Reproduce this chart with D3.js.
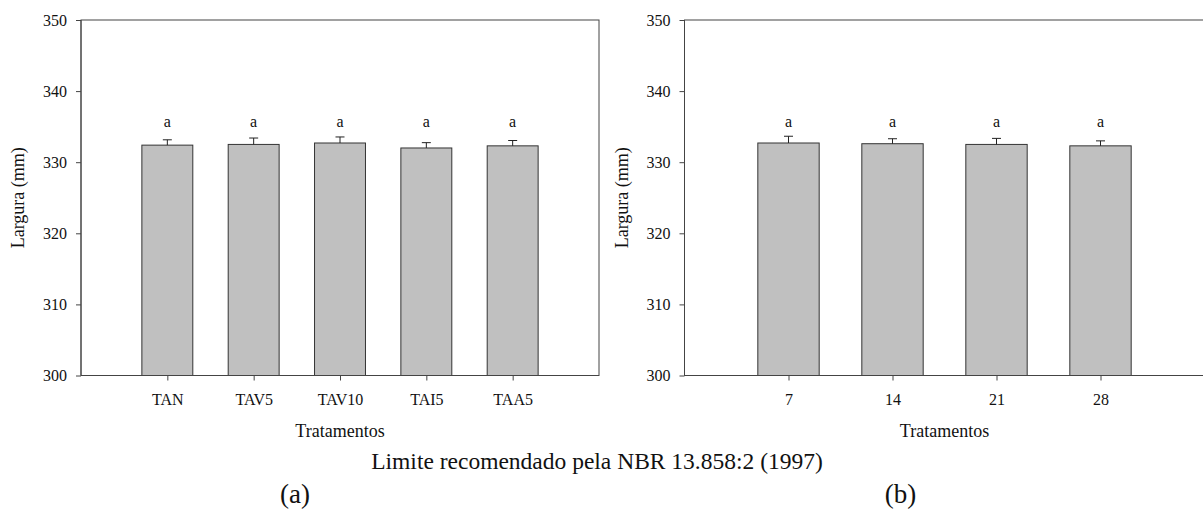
<!DOCTYPE html>
<html>
<head>
<meta charset="utf-8">
<script src="https://cdn.jsdelivr.net/npm/d3@7"></script>
<style>
  html, body { margin: 0; padding: 0; background: #fff; }
  svg { display: block; font-family: "Liberation Serif", "Times New Roman", serif; }
</style>
</head>
<body>
<svg id="chart" width="1203" height="511"></svg>
<script>
// Panel (a): treatments
const leftCategories = ["TAN", "TAV5", "TAV10", "TAI5", "TAA5"];
const leftMeans = [332.4, 332.5, 332.7, 332.0, 332.3];
const leftErrors = [0.75, 0.9, 0.85, 0.75, 0.75];
const leftLetters = ["a", "a", "a", "a", "a"];

// Panel (b): days
const rightCategories = ["7", "14", "21", "28"];
const rightMeans = [332.7, 332.6, 332.5, 332.3];
const rightErrors = [0.95, 0.7, 0.85, 0.7];
const rightLetters = ["a", "a", "a", "a"];

const yTicks = [300, 310, 320, 330, 340, 350];
const yDomain = [300, 350];

const svg = d3.select("#chart");
const axisColor = "#444";
const textColor = "#111";

function drawPanel(cfg) {
  const g = svg.append("g");
  const x = d3.scalePoint().domain(cfg.categories).range([cfg.x0, cfg.x1]).padding(1);
  const y = d3.scaleLinear().domain(yDomain).range([cfg.bottom, cfg.top]);
  const barW = x.step() * 0.59;
  const data = cfg.categories.map((c, i) => ({ c, m: cfg.means[i], e: cfg.errors[i], l: cfg.letters[i] }));

  // frame (top and right sides)
  g.append("rect")
    .attr("x", cfg.x0).attr("y", y(yDomain[1]))
    .attr("width", cfg.x1 - cfg.x0).attr("height", y(yDomain[0]) - y(yDomain[1]))
    .attr("fill", "none").attr("stroke", axisColor).attr("stroke-width", 1);

  // bars
  g.selectAll("rect.bar").data(data).join("rect")
    .attr("class", "bar")
    .attr("x", d => x(d.c) - barW / 2)
    .attr("y", d => y(d.m))
    .attr("width", barW)
    .attr("height", d => y(yDomain[0]) - y(d.m))
    .attr("fill", "#c0c0c0")
    .attr("stroke", "#333")
    .attr("stroke-width", 1);

  // upper error bars
  const eb = g.selectAll("g.err").data(data).join("g").attr("class", "err")
    .attr("stroke", "#222").attr("stroke-width", 1);
  eb.append("line")
    .attr("x1", d => x(d.c)).attr("x2", d => x(d.c))
    .attr("y1", d => y(d.m)).attr("y2", d => y(d.m + d.e));
  eb.append("line")
    .attr("x1", d => x(d.c) - 4.5).attr("x2", d => x(d.c) + 4.5)
    .attr("y1", d => y(d.m + d.e)).attr("y2", d => y(d.m + d.e));

  // significance letters
  g.selectAll("text.letter").data(data).join("text")
    .attr("class", "letter")
    .attr("x", d => x(d.c))
    .attr("y", y(335))
    .attr("text-anchor", "middle")
    .attr("font-size", 16)
    .attr("fill", textColor)
    .text(d => d.l);

  // axes
  const yAxis = g.append("g")
    .attr("transform", `translate(${cfg.x0},0)`)
    .call(d3.axisLeft(y).tickValues(yTicks).tickFormat(d3.format("d")).tickSize(5).tickPadding(9));
  const xAxis = g.append("g")
    .attr("transform", `translate(0,${cfg.bottom})`)
    .call(d3.axisBottom(x).tickSize(5).tickPadding(13));
  [yAxis, xAxis].forEach(a => {
    a.select(".domain").remove();
    a.selectAll("line").attr("stroke", axisColor);
    a.selectAll("text").attr("fill", textColor).attr("font-size", 16)
      .attr("font-family", "Liberation Serif, Times New Roman, serif");
  });
  // axis lines
  g.append("line").attr("x1", cfg.x0).attr("x2", cfg.x0)
    .attr("y1", cfg.top).attr("y2", cfg.bottom).attr("stroke", axisColor);
  g.append("line").attr("x1", cfg.x0).attr("x2", cfg.x1)
    .attr("y1", cfg.bottom).attr("y2", cfg.bottom).attr("stroke", axisColor);

  // axis titles
  g.append("text")
    .attr("transform", `translate(${cfg.x0 - 57},${(cfg.top + cfg.bottom) / 2}) rotate(-90)`)
    .attr("text-anchor", "middle").attr("font-size", 18).attr("fill", textColor)
    .text("Largura (mm)");
  g.append("text")
    .attr("x", (cfg.x0 + cfg.x1) / 2).attr("y", 437)
    .attr("text-anchor", "middle").attr("font-size", 18).attr("fill", textColor)
    .text("Tratamentos");

  // panel tag
  g.append("text")
    .attr("x", cfg.tagX).attr("y", 503)
    .attr("text-anchor", "middle").attr("font-size", 27).attr("fill", textColor)
    .text(cfg.tag);
}

drawPanel({
  categories: leftCategories, means: leftMeans, errors: leftErrors, letters: leftLetters,
  x0: 81, x1: 599, top: 20, bottom: 375.5, tag: "(a)", tagX: 295
});
drawPanel({
  categories: rightCategories, means: rightMeans, errors: rightErrors, letters: rightLetters,
  x0: 684.5, x1: 1204.5, top: 20, bottom: 375.5, tag: "(b)", tagX: 900.5
});

// shared caption
svg.append("text")
  .attr("x", 597).attr("y", 469)
  .attr("text-anchor", "middle").attr("font-size", 23.5).attr("fill", textColor)
  .text("Limite recomendado pela NBR 13.858:2 (1997)");
</script>
</body>
</html>
